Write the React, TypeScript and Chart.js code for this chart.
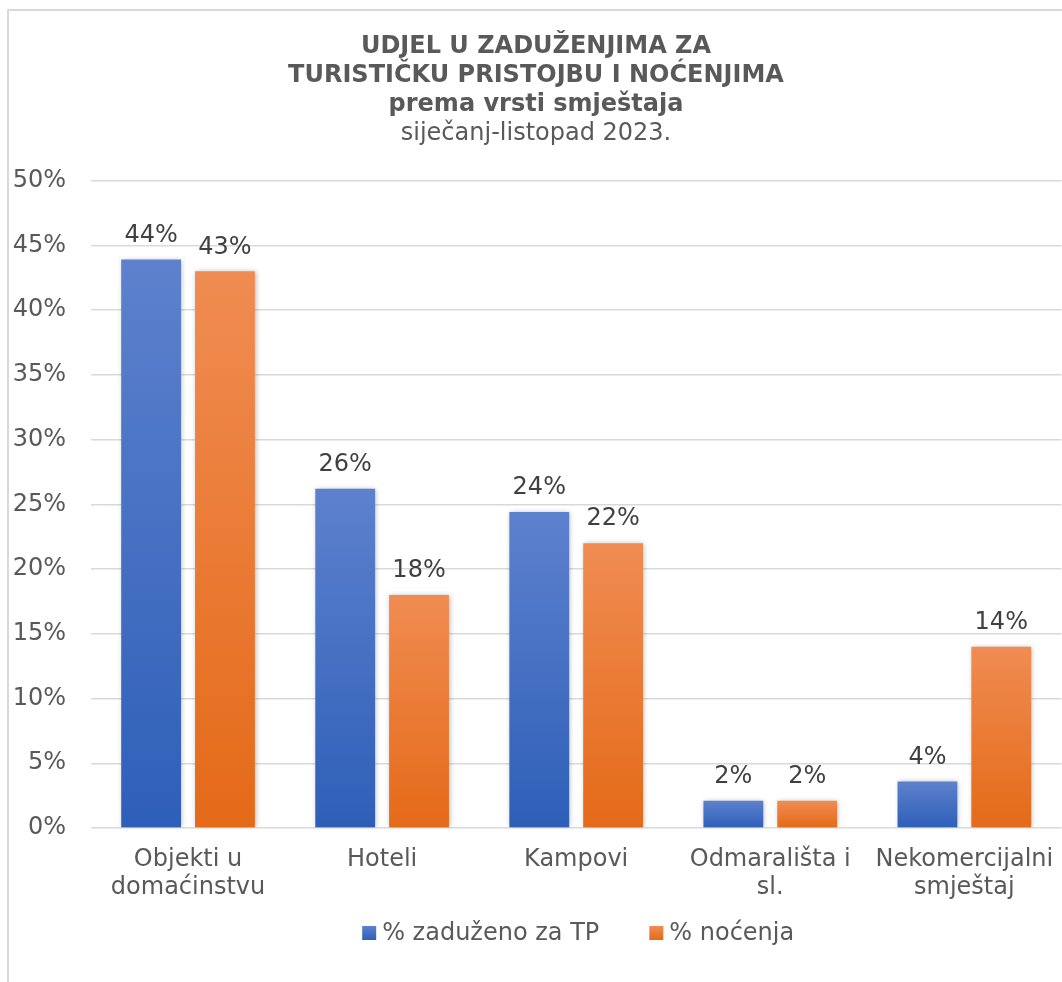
import React, { useEffect, useRef } from "react";
import { Chart, registerables } from "chart.js";

Chart.register(...registerables);

const categories: (string | string[])[] = [
  ["Objekti u", "domaćinstvu"],
  "Hoteli",
  "Kampovi",
  ["Odmarališta i", "sl."],
  ["Nekomercijalni", "smještaj"],
];
const zaduzenoTP = [43.9, 26.2, 24.4, 2.1, 3.6];
const nocenja = [43.0, 18.0, 22.0, 2.1, 14.0];
const seriesNames = ["% zaduženo za TP", "% noćenja"];
const yTicksMax = 50;
const yTicksStep = 5;
const titleLines = ["UDJEL U ZADUŽENJIMA ZA", "TURISTIČKU PRISTOJBU I NOĆENJIMA", "prema vrsti smještaja"];
const subtitleText = "siječanj-listopad 2023.";

const FONT = "'DejaVu Sans', Verdana, sans-serif";
const GRADS: [string, string][] = [
  ["#5d81cd", "#2e5fb8"],
  ["#f08c52", "#e46a18"],
];

function gradFill(dsIndex: number) {
  return (ctx: any) => {
    const chart = ctx.chart;
    const [c1, c2] = GRADS[dsIndex];
    if (!chart.chartArea || ctx.type !== "data" || !chart.scales.y) return c2;
    const y = chart.scales.y;
    const top = y.getPixelForValue(ctx.raw);
    const bottom = y.getPixelForValue(0);
    if (!isFinite(top) || !isFinite(bottom) || bottom - top < 1) return c2;
    const g = chart.ctx.createLinearGradient(0, top, 0, bottom);
    g.addColorStop(0, c1);
    g.addColorStop(1, c2);
    return g;
  };
}

const shadowPlugin = {
  id: "barShadow",
  beforeDatasetsDraw(chart: any) {
    const c = chart.ctx;
    c.save();
    c.shadowColor = "rgba(0,0,0,0.28)";
    c.shadowBlur = 5;
    c.shadowOffsetX = 1;
    c.shadowOffsetY = 0;
  },
  afterDatasetsDraw(chart: any) {
    chart.ctx.restore();
  },
};

const valueLabelPlugin = {
  id: "valueLabels",
  afterDatasetsDraw(chart: any) {
    const c = chart.ctx;
    c.save();
    c.font = `24px ${FONT}`;
    c.fillStyle = "#404040";
    c.textAlign = "center";
    c.textBaseline = "middle";
    chart.data.datasets.forEach((ds: any, di: number) => {
      const meta = chart.getDatasetMeta(di);
      meta.data.forEach((el: any, i: number) => {
        const v = ds.data[i];
        c.fillText(`${Math.round(v)}%`, el.x, el.y - 24);
      });
    });
    c.restore();
  },
};

const legendPlugin = {
  id: "customLegend",
  afterDraw(chart: any) {
    const c = chart.ctx;
    const area = chart.chartArea;
    c.save();
    c.font = `24px ${FONT}`;
    c.textBaseline = "middle";
    c.textAlign = "left";
    const box = 14;
    const gapBoxText = 6;
    const gapItems = 50;
    const items = chart.data.datasets.map((ds: any, i: number) => ({
      label: ds.label,
      i,
      w: c.measureText(ds.label).width,
    }));
    const total =
      items.reduce((s: number, it: any) => s + box + gapBoxText + it.w, 0) +
      gapItems * (items.length - 1);
    let x = (area.left + area.right) / 2 + 2 - total / 2;
    const yc = 922;
    items.forEach((it: any) => {
      const [c1, c2] = GRADS[it.i];
      const g = c.createLinearGradient(0, yc - box / 2, 0, yc + box / 2);
      g.addColorStop(0, c1);
      g.addColorStop(1, c2);
      c.fillStyle = g;
      c.fillRect(x, yc - box / 2, box, box);
      c.fillStyle = "#595959";
      c.fillText(it.label, x + box + gapBoxText, yc + 1);
      x += box + gapBoxText + it.w + gapItems;
    });
    c.restore();
  },
};

export default function App() {
  const ref = useRef<HTMLCanvasElement | null>(null);

  useEffect(() => {
    if (!ref.current) return;
    const chart = new Chart(ref.current, {
      type: "bar",
      data: {
        labels: categories,
        datasets: [
          {
            label: seriesNames[0],
            data: zaduzenoTP,
            backgroundColor: gradFill(0),
            barPercentage: 0.81,
            categoryPercentage: 0.761,
          },
          {
            label: seriesNames[1],
            data: nocenja,
            backgroundColor: gradFill(1),
            barPercentage: 0.81,
            categoryPercentage: 0.761,
          },
        ],
      },
      options: {
        responsive: false,
        animation: false,
        devicePixelRatio: 1,
        layout: { padding: { left: 0, right: 8, top: 0, bottom: 74 } },
        plugins: {
          legend: { display: false },
          tooltip: { enabled: false },
          title: {
            display: true,
            text: titleLines,
            color: "#595959",
            font: { family: FONT, size: 24, weight: "bold", lineHeight: 1.22 },
            padding: { top: 21, bottom: 0 },
          },
          subtitle: {
            display: true,
            text: subtitleText,
            color: "#595959",
            font: { family: FONT, size: 24, weight: "normal", lineHeight: 1.2 },
            padding: { top: 0, bottom: 32 },
          },
        },
        scales: {
          x: {
            grid: { display: false, drawTicks: false },
            border: { display: false },
            ticks: {
              color: "#595959",
              font: { family: FONT, size: 24, lineHeight: 1.2 },
              padding: 17,
              maxRotation: 0,
              autoSkip: false,
            },
            afterFit: (s: any) => {
              s.height = 80;
            },
          },
          y: {
            min: 0,
            max: yTicksMax,
            grid: { color: "#d9d9d9", lineWidth: 1.5, drawTicks: false },
            border: { display: false },
            ticks: {
              stepSize: yTicksStep,
              color: "#595959",
              font: { family: FONT, size: 24 },
              padding: 25,
              callback: (v: any) => `${v}%`,
            },
            afterFit: (s: any) => {
              s.width = 82;
            },
          },
        },
      },
      plugins: [shadowPlugin, valueLabelPlugin, legendPlugin],
    });
    return () => chart.destroy();
  }, []);

  return (
    <div
      style={{
        position: "fixed",
        left: 0,
        top: 0,
        width: 1062,
        height: 982,
        overflow: "hidden",
        background: "#ffffff",
      }}
    >
      <div
        style={{
          position: "absolute",
          left: 7,
          top: 9,
          width: 1100,
          height: 1000,
          borderLeft: "2px solid #d9d9d9",
          borderTop: "2px solid #d9d9d9",
        }}
      />
      <div style={{ position: "absolute", left: 9, top: 11, width: 1062, height: 971 }}>
        <canvas ref={ref} width={1062} height={971} style={{ display: "block" }} />
      </div>
    </div>
  );
}
